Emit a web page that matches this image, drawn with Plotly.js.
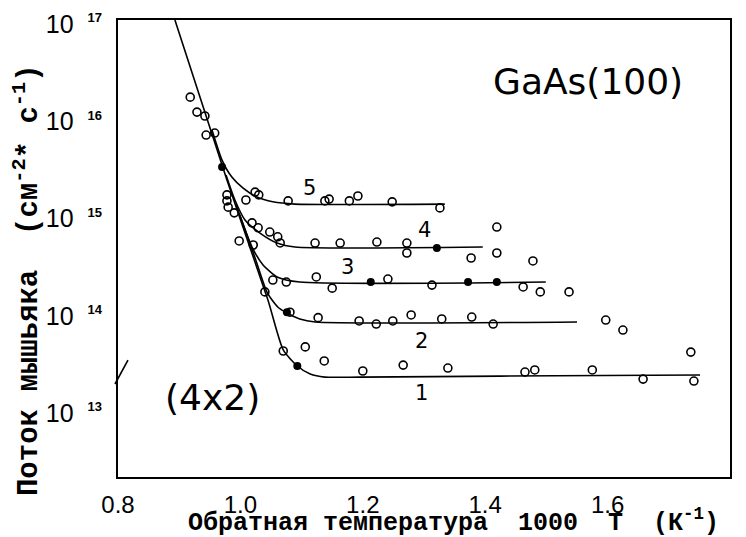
<!DOCTYPE html>
<html>
<head>
<meta charset="utf-8">
<script src="https://cdn.plot.ly/plotly-3.0.1.min.js"></script>
<style>html,body{margin:0;padding:0;background:#fff;}#chart{width:746px;height:537px;}</style>
</head>
<body>
<div id="chart"></div>
<script>
// Fitted curves
const curve1X = [0.893, 0.978, 1.045, 1.070, 1.093, 1.114, 1.138, 1.195, 1.424, 1.751];
const curve1Y = [1.0e17, 2.26e15, 1.32e14, 4.05e13, 2.77e13, 2.29e13, 2.13e13, 2.13e13, 2.18e13, 2.24e13];
const curve2X = [0.999, 1.024, 1.044, 1.061, 1.076, 1.097, 1.122, 1.550];
const curve2Y = [9.9e14, 3.57e14, 1.56e14, 1.12e14, 9.7e13, 8.43e13, 7.85e13, 7.85e13];
const curve3X = [0.993, 1.019, 1.037, 1.060, 1.097, 1.499];
const curve3Y = [1.25e15, 4.63e14, 3.03e14, 2.28e14, 2.02e14, 2.02e14];
const curve4X = [0.9765, 0.991, 1.0075, 1.032, 1.060, 1.089, 1.396];
const curve4Y = [2.55e15, 1.41e15, 8.78e14, 6.45e14, 5.09e14, 4.63e14, 4.63e14];
const curve5X = [0.9536, 0.970, 0.986, 1.004, 1.027, 1.053, 1.089, 1.334];
const curve5Y = [7.4e15, 3.63e15, 2.43e15, 1.88e15, 1.51e15, 1.35e15, 1.28e15, 1.28e15];

// Measured points (open circles)
const openX = [0.918, 0.929, 0.942, 0.944, 0.958, 0.978, 0.978, 0.980, 0.990, 1.024, 1.030, 1.009, 1.078,
  1.019, 1.029, 1.048, 1.061, 1.065, 0.998, 1.021, 1.053, 1.075, 1.040, 1.150, 1.127, 1.070, 1.106, 1.137,
  1.138, 1.145, 1.178, 1.192, 1.248, 1.326,
  1.122, 1.163, 1.223, 1.272, 1.272, 1.377, 1.419, 1.419, 1.478,
  1.124, 1.241, 1.313, 1.462, 1.490, 1.537,
  1.194, 1.222, 1.249, 1.279, 1.329, 1.378, 1.413, 1.597, 1.625, 1.081,
  1.200, 1.266, 1.339, 1.465, 1.481, 1.575, 1.658, 1.736, 1.741];
const openY = [1.61e16, 1.13e16, 1.03e16, 6.56e15, 6.88e15, 1.59e15, 1.38e15, 1.19e15, 1.04e15, 1.70e15, 1.59e15, 1.41e15, 1.38e15,
  8.2e14, 7.3e14, 6.6e14, 5.9e14, 5.1e14, 5.35e14, 4.86e14, 2.12e14, 2.02e14, 1.60e14, 1.75e14, 8.7e13, 3.95e13, 4.35e13, 3.12e13,
  1.38e15, 1.44e15, 1.38e15, 1.55e15, 1.35e15, 1.17e15,
  5.09e14, 5.09e14, 5.21e14, 5.09e14, 4.02e14, 3.57e14, 7.43e14, 4.02e14, 3.33e14,
  2.28e14, 2.17e14, 1.88e14, 1.80e14, 1.60e14, 1.60e14,
  8.04e13, 7.48e13, 8.04e13, 9.27e13, 8.43e13, 8.83e13, 7.48e13, 8.22e13, 6.49e13, 9.9e13,
  2.46e13, 2.83e13, 2.64e13, 2.40e13, 2.52e13, 2.52e13, 2.03e13, 3.85e13, 1.94e13];

// Measured points (filled circles)
const filledX = [0.970, 1.076, 1.093, 1.321, 1.213, 1.372, 1.419];
const filledY = [3.08e15, 9.9e13, 2.77e13, 4.53e14, 2.02e14, 2.02e14, 2.02e14];

// Axes
const xRange = [0.8, 1.8];
const xTickVals = [0.8, 1.0, 1.2, 1.4, 1.6, 1.8];
const xTickText = ['0.8', '1.0', '1.2', '1.4', '1.6', '1.8'];
const xMinorPerMajor = 10;
const yTickVals = [1e13, 1e14, 1e15, 1e16, 1e17];
const yTickExp = ['13', '14', '15', '16', '17'];
const yMinorDigits = [2, 3, 4, 5, 6, 7, 8, 9];
const yRangeLog = [12.301, 17];
const curveLabels = ['1', '2', '3', '4', '5'];

const plotW = 746 - 118 - 16, plotH = 537 - 20 - 60;
const pxPerX = plotW / (xRange[1] - xRange[0]);
const pxPerDecade = plotH / (yRangeLog[1] - yRangeLog[0]);

// Tick positions derived from the tick values
const xMajor = xTickVals.slice();
const xMinor = [];
xTickVals.forEach((v, i) => {
  if (i < xTickVals.length - 1) {
    const step = (xTickVals[i + 1] - v) / xMinorPerMajor;
    for (let k = 1; k < xMinorPerMajor; k++) xMinor.push(v + k * step);
  }
});
const yMajor = [];
const yMinor = [];
[1e12].concat(yTickVals).forEach((d) => {
  const lv = Math.log10(d);
  if (lv >= yRangeLog[0] && lv <= yRangeLog[1] + 1e-9) yMajor.push(d);
  yMinorDigits.forEach((m) => {
    const ml = Math.log10(d * m);
    if (ml >= yRangeLog[0] && ml <= yRangeLog[1]) yMinor.push(d * m);
  });
});

const lineStyle = {color: '#000', width: 1.6, shape: 'spline', smoothing: 0.6};
const curves = [[curve1X, curve1Y], [curve2X, curve2Y], [curve3X, curve3Y], [curve4X, curve4Y], [curve5X, curve5Y]];
const traces = curves.map((c, i) => ({
  x: c[0], y: c[1], type: 'scatter', mode: 'lines', line: lineStyle, name: 'curve ' + curveLabels[i], hoverinfo: 'skip'
}));
traces.push({
  x: openX, y: openY, type: 'scatter', mode: 'markers', name: 'open',
  marker: {symbol: 'circle-open', size: 8, color: '#000', line: {width: 1.6, color: '#000'}}
});
traces.push({
  x: filledX, y: filledY, type: 'scatter', mode: 'markers', name: 'filled',
  marker: {symbol: 'circle', size: 8, color: '#000'}
});

// Tick marks as unclipped line markers just outside the axes
const tickTrace = (xs, ys, sym, len, w) => ({
  x: xs, y: ys, type: 'scatter', mode: 'markers', cliponaxis: false, hoverinfo: 'skip', showlegend: false,
  marker: {symbol: sym, size: len, color: '#000', line: {width: w, color: '#000'}}
});
const yBelow = (px) => Math.pow(10, yRangeLog[0] - px / pxPerDecade);
const xLeft = (px) => xRange[0] - px / pxPerX;
traces.push(tickTrace(xMajor, xMajor.map(() => yBelow(4)), 'line-ns-open', 8, 2));
traces.push(tickTrace(xMinor, xMinor.map(() => yBelow(2.5)), 'line-ns-open', 5, 1.6));
traces.push(tickTrace(yMajor.map(() => xLeft(4)), yMajor, 'line-ew-open', 8, 2));
traces.push(tickTrace(yMinor.map(() => xLeft(2.5)), yMinor, 'line-ew-open', 5, 1.6));

const labelPos = [[0.4951, 0.1838], [0.4967, 0.2976], [0.3742, 0.4595], [0.5016, 0.5405], [0.3137, 0.6324]];
const annotations = curveLabels.map((t, i) => ({
  text: t, xref: 'paper', yref: 'paper', x: labelPos[i][0], y: labelPos[i][1],
  xanchor: 'center', yanchor: 'middle',
  showarrow: false, font: {family: 'DejaVu Sans', size: 21, color: '#000'}
}));
annotations.push({text: 'GaAs(100)', xref: 'paper', yref: 'paper', x: 0.768, y: 0.8665, xanchor: 'center', yanchor: 'middle',
  showarrow: false, font: {family: 'DejaVu Sans', size: 36, color: '#000'}});
annotations.push({text: '(4x2)', xref: 'paper', yref: 'paper', x: 0.1536, y: 0.1729, xanchor: 'center', yanchor: 'middle',
  showarrow: false, font: {family: 'DejaVu Sans', size: 36, color: '#000'}});
annotations.push({text: 'Поток&nbsp;мышьяка&nbsp;&nbsp;(см<sup>-2</sup>*&nbsp;с<sup>-1</sup>)', xref: 'paper', yref: 'paper',
  x: -0.1487, y: 0.431, xanchor: 'center', yanchor: 'middle', textangle: -90, showarrow: false,
  font: {family: 'Liberation Mono', size: 29, color: '#000', weight: 'bold'}});
annotations.push({text: 'Обратная&nbsp;температура&nbsp;&nbsp;1000&nbsp;&nbsp;T&nbsp;&nbsp;(К<sup>-1</sup>)', xref: 'paper', yref: 'paper',
  x: 0.5474, y: -0.0963, xanchor: 'center', yanchor: 'middle', showarrow: false,
  font: {family: 'Liberation Mono', size: 25, color: '#000', weight: 'bold'}});

const shapes = [{type: 'line', xref: 'paper', yref: 'paper', x0: -0.0049, y0: 0.2035, x1: 0.0163, y1: 0.256,
  line: {color: '#000', width: 1.6}}];

const layout = {
  width: 746, height: 537,
  margin: {l: 118, r: 16, t: 20, b: 60},
  paper_bgcolor: '#fff', plot_bgcolor: '#fff',
  showlegend: false,
  xaxis: {
    range: xRange, tickmode: 'array', tickvals: xTickVals, ticktext: xTickText,
    ticks: '', showticklabels: true, ticklabelstandoff: 5,
    showline: true, linecolor: '#000', linewidth: 2, mirror: true,
    showgrid: false, zeroline: false,
    tickfont: {family: 'Liberation Sans', size: 24, color: '#000'}
  },
  yaxis: {
    type: 'log', range: yRangeLog,
    tickmode: 'array', tickvals: yTickVals,
    ticktext: yTickExp.map(e => '10&nbsp;&nbsp;<sup><span style="font-size:13px;font-weight:bold">' + e + '</span></sup>'),
    ticks: '', showticklabels: true, ticklabelstandoff: 9, ticklabelshift: 4,
    showline: true, linecolor: '#000', linewidth: 2, mirror: true,
    showgrid: false, zeroline: false,
    tickfont: {family: 'Liberation Sans', size: 25, color: '#000'}
  },
  annotations: annotations,
  shapes: shapes
};

Plotly.newPlot('chart', traces, layout, {displayModeBar: false});
</script>
</body>
</html>
